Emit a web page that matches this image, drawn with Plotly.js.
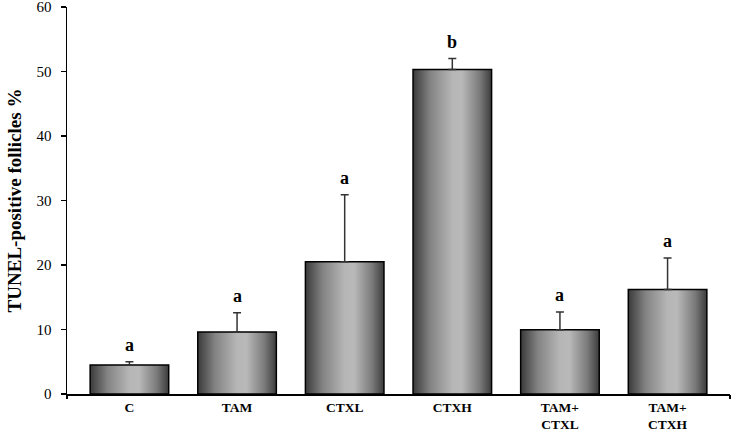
<!DOCTYPE html>
<html>
<head>
<meta charset="utf-8">
<script src="https://cdn.plot.ly/plotly-3.0.1.min.js"></script>
<style>html,body{margin:0;padding:0;background:#fff;}#chart{width:732px;height:432px;}</style>
</head>
<body>
<div id="chart"></div>
<script>
// Data
const categories = ["C", "TAM", "CTXL", "CTXH", "TAM+<br>CTXL", "TAM+<br>CTXH"];
const values = [4.5, 9.6, 20.5, 50.3, 9.95, 16.2];
const errorsPlus = [0.5, 3.0, 10.4, 1.7, 2.75, 4.9];
const groupLetters = ["a", "a", "a", "b", "a", "a"];
const yTicks = [0, 10, 20, 30, 40, 50, 60];

const serif = "'Liberation Serif', 'Times New Roman', serif";

const bar = {
  type: "bar",
  x: categories,
  y: values,
  width: 0.73,
  marker: { color: "#999", line: { color: "#000", width: 1.5 } },
  error_y: { type: "data", array: errorsPlus, symmetric: false, arrayminus: values.map(() => 0),
             color: "#333", thickness: 1.5, width: 4 },
  hoverinfo: "none"
};
// invisible trace on overlay axis for end ticks
const endTicks = {
  type: "scatter", x: [], y: [], xaxis: "x2", yaxis: "y", hoverinfo: "none", showlegend: false
};

const annotations = categories.map((c, i) => ({
  x: c, y: values[i] + errorsPlus[i], xref: "x", yref: "y",
  text: "<b>" + groupLetters[i] + "</b>", showarrow: false,
  yanchor: "middle", yshift: 17,
  font: { family: serif, size: 18, color: "#000" }
}));

const layout = {
  width: 732, height: 432,
  margin: { l: 67, r: 2, t: 7, b: 38 },
  paper_bgcolor: "#fff", plot_bgcolor: "#fff",
  showlegend: false,
  xaxis: {
    type: "category", range: [-0.58, 5.58],
    showline: true, linecolor: "#000", linewidth: 1.5,
    ticks: "", showgrid: false, zeroline: false,
    tickfont: { family: serif, size: 13.5, color: "#000", weight: "bold" },
    ticklabelstandoff: 0
  },
  xaxis2: {
    overlaying: "x", range: [-0.58, 5.58], type: "linear",
    tickvals: [-0.58, 5.58], ticks: "outside", ticklen: 4, tickwidth: 1.5, tickcolor: "#000",
    showticklabels: false, showgrid: false, zeroline: false, showline: false, side: "bottom"
  },
  yaxis: {
    range: [0, 60], tickvals: yTicks,
    showline: true, linecolor: "#000", linewidth: 1.5,
    ticks: "outside", ticklen: 5, tickwidth: 1.5, tickcolor: "#000",
    showgrid: false, zeroline: false,
    tickfont: { family: serif, size: 15, color: "#000" },
    ticklabelstandoff: 6, ticklabeloverflow: "allow",
    title: { text: "<b>TUNEL-positive follicles %</b>", font: { family: serif, size: 19, color: "#000" }, standoff: 10 }
  },
  annotations: annotations
};

const gd = document.getElementById("chart");
Plotly.newPlot(gd, [bar, endTicks], layout, { staticPlot: true }).then(() => {
  const svgNS = "http://www.w3.org/2000/svg";
  const svg = gd.querySelector("svg.main-svg");
  let defs = svg.querySelector("defs");
  if (!defs) { defs = document.createElementNS(svgNS, "defs"); svg.insertBefore(defs, svg.firstChild); }
  const grad = document.createElementNS(svgNS, "linearGradient");
  grad.setAttribute("id", "cylGrad");
  grad.setAttribute("x1", "0"); grad.setAttribute("y1", "0");
  grad.setAttribute("x2", "1"); grad.setAttribute("y2", "0");
  [["0", "#3a3a3a"], ["0.22", "#838383"], ["0.5", "#b6b6b6"], ["0.62", "#b9b9b9"], ["0.85", "#7a7a7a"], ["1", "#3c3c3c"]].forEach(s => {
    const st = document.createElementNS(svgNS, "stop");
    st.setAttribute("offset", s[0]); st.setAttribute("stop-color", s[1]);
    grad.appendChild(st);
  });
  defs.appendChild(grad);
  gd.querySelectorAll(".trace.bars .point path").forEach(p => { p.style.fill = "url(#cylGrad)"; });
});
</script>
</body>
</html>
